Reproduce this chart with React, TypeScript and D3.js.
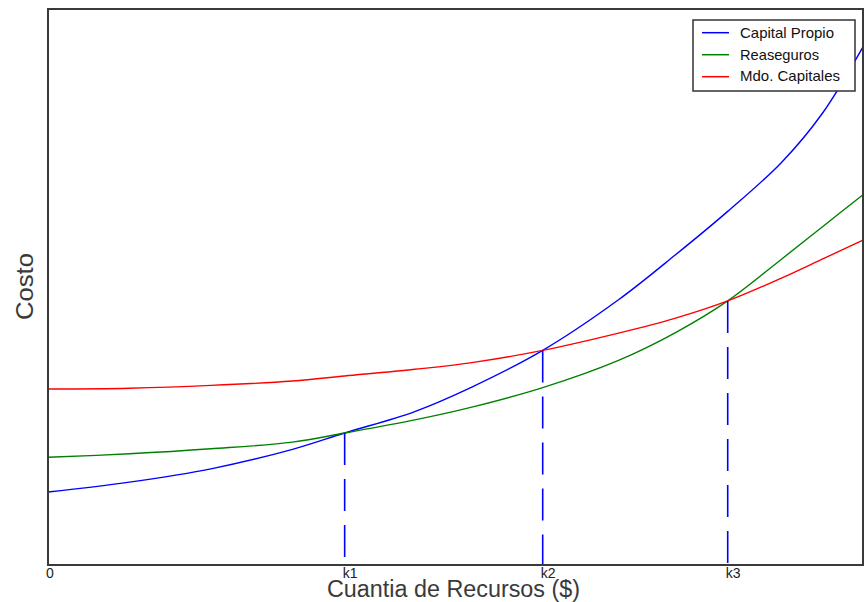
import React from "react";
import * as d3 from "d3";

const xValues = [0, 10, 20, 30, 36.4, 45, 52, 60.7, 70, 77, 83.4, 90, 95, 100];
const capitalPropio = [13.13, 14.9, 17.3, 20.8, 23.74, 27.6, 32.0, 38.6, 47.7, 55.8, 63.6, 72.4, 81.2, 93.2];
const reaseguros = [19.37, 20.0, 20.9, 22.1, 23.74, 26.1, 28.4, 31.9, 36.8, 41.8, 47.5, 55.0, 60.8, 66.6];
const mdoCapitales = [31.65, 31.8, 32.3, 33.1, 33.99, 35.2, 36.4, 38.6, 41.7, 44.4, 47.5, 51.6, 55.0, 58.45];

const tickLabels = ["0", "k1", "k2", "k3"];
const tickValues = [0, 36.4, 60.7, 83.4];
const tickCurveValues = [0, 23.74, 38.6, 47.5];

const seriesNames = ["Capital Propio", "Reaseguros", "Mdo. Capitales"];
const seriesColors = ["#0000ff", "#008000", "#ff0000"];
const legendTextLengths = [94, 79, 100];

export default function App() {
  const W = 865, H = 602;
  const left = 48, right = 863, top = 9, bottom = 565;
  const x = d3.scaleLinear().domain([0, 100]).range([left, right]);
  const y = d3.scaleLinear().domain([0, 100]).range([bottom, top]);
  const series = [capitalPropio, reaseguros, mdoCapitales];
  const line = d3
    .line<number>()
    .x((_, i) => x(xValues[i]))
    .y((d) => y(d))
    .curve(d3.curveCatmullRom.alpha(0.5));

  return (
    <svg
      width={W}
      height={H}
      style={{ position: "absolute", left: 0, top: 0, background: "#fff" }}
      fontFamily="'Liberation Sans', Arial, sans-serif"
    >
      <rect x={0} y={0} width={W} height={H} fill="#fff" />
      {series.map((s, i) => (
        <path key={i} d={line(s) || ""} fill="none" stroke={seriesColors[i]} strokeWidth={1.4} />
      ))}
      {tickValues.slice(1).map((v, i) => (
        <line
          key={i}
          x1={x(v)}
          x2={x(v)}
          y1={y(tickCurveValues[i + 1])}
          y2={bottom}
          stroke="#0000ff"
          strokeWidth={1.6}
          strokeDasharray="32 14"
        />
      ))}
      <rect
        x={left}
        y={top}
        width={right - left}
        height={bottom - top}
        fill="none"
        stroke="#3a3a3a"
        strokeWidth={2}
      />
      {tickValues.map((v, i) => (
        <text key={i} x={x(v) - 2} y={578} fontSize={14} fill="#222">
          {tickLabels[i]}
        </text>
      ))}
      <text
        x={327}
        y={597}
        fontSize={23.5}
        textLength={253}
        lengthAdjust="spacingAndGlyphs"
        fill="#3a3a3a"
      >
        Cuantia de Recursos ($)
      </text>
      <text
        transform={`translate(33,320) rotate(-90)`}
        fontSize={24}
        textLength={67}
        lengthAdjust="spacingAndGlyphs"
        fill="#3a3a3a"
      >
        Costo
      </text>
      <g>
        <rect x={693} y={20} width={162} height={71} fill="#fff" stroke="#333" strokeWidth={1.5} />
        {seriesNames.map((n, i) => (
          <g key={n}>
            <line x1={702} x2={729} y1={32.7 + i * 22} y2={32.7 + i * 22} stroke={seriesColors[i]} strokeWidth={1.5} />
            <text
              x={740}
              y={38.3 + i * 21.4}
              fontSize={14.5}
              textLength={legendTextLengths[i]}
              lengthAdjust="spacingAndGlyphs"
              fill="#111"
            >
              {n}
            </text>
          </g>
        ))}
      </g>
    </svg>
  );
}
